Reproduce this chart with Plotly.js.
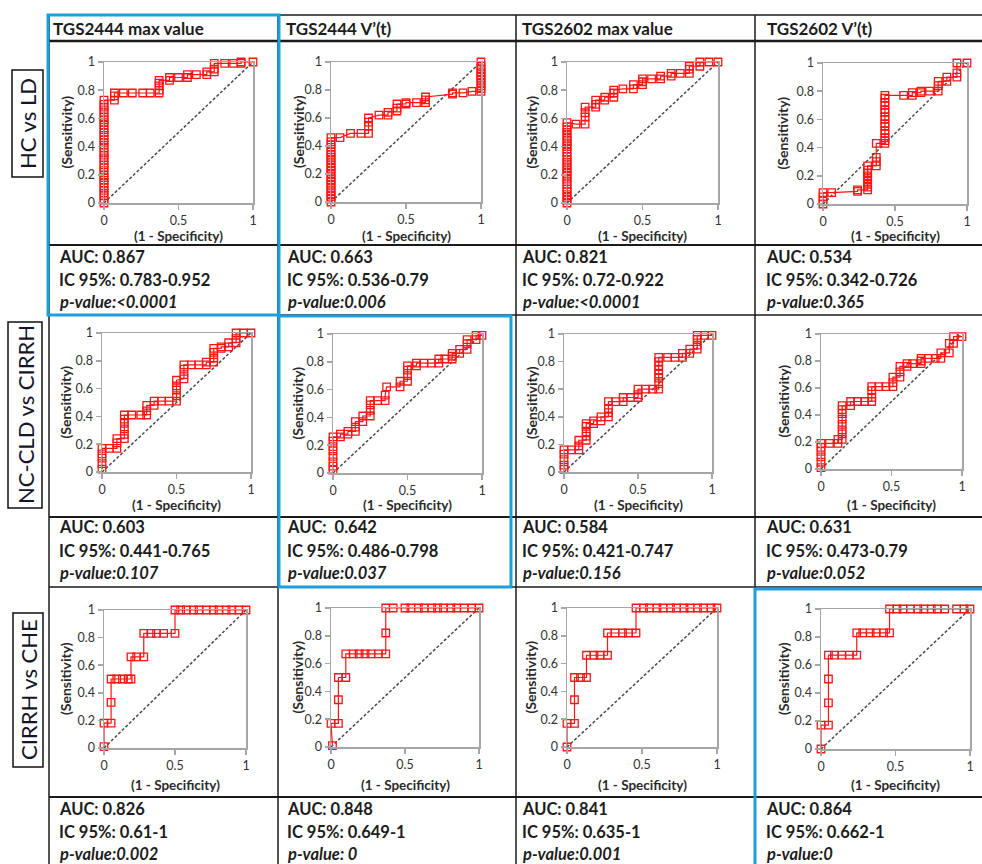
<!DOCTYPE html>
<html><head><meta charset="utf-8">
<script src="https://cdn.plot.ly/plotly-3.0.1.min.js"></script>
<style>html,body{margin:0;padding:0;background:#fff;}#chart{width:982px;height:864px;}</style>
</head><body><div id="chart"></div>
<script>
// ---------- DATA ----------
const columnTitles = ["TGS2444 max value", "TGS2444 V\u2019(t)", "TGS2602 max value", "TGS2602 V\u2019(t)"];
const rowLabels = ["HC vs LD", "NC-CLD vs CIRRH", "CIRRH vs CHE"];
const xAxisTitle = "(1 - Specificity)";
const yAxisTitle = "(Sensitivity)";
const aucText = ["0.867", "0.663", "0.821", "0.534", "0.603", " 0.642", "0.584", "0.631", "0.826", "0.848", "0.841", "0.864"];
const ciText = ["0.783-0.952", "0.536-0.79", "0.72-0.922", "0.342-0.726", "0.441-0.765", "0.486-0.798", "0.421-0.747", "0.473-0.79", "0.61-1", "0.649-1", "0.635-1", "0.662-1"];
const pText = ["<0.0001", "0.006", "<0.0001", "0.365", "0.107", "0.037", "0.156", "0.052", "0.002", " 0", "0.001", "0"];
const diagonal = [[0, 0], [1, 1]];

// ROC points [1 - specificity, sensitivity]
const roc_hcld_2444max = [[0,0],[0,0.02],[0,0.05],[0,0.07],[0,0.09],[0,0.11],[0,0.14],[0,0.16],[0,0.18],[0,0.2],[0,0.23],[0,0.25],[0,0.27],[0,0.3],[0,0.32],[0,0.34],[0,0.36],[0,0.39],[0,0.41],[0,0.43],[0,0.45],[0,0.48],[0,0.5],[0,0.52],[0,0.55],[0,0.57],[0,0.59],[0,0.61],[0,0.64],[0,0.66],[0,0.68],[0,0.7],[0,0.73],[0.07,0.73],[0.07,0.76],[0.07,0.78],[0.13,0.78],[0.19,0.78],[0.26,0.78],[0.31,0.78],[0.37,0.78],[0.37,0.8],[0.37,0.83],[0.37,0.85],[0.37,0.87],[0.44,0.87],[0.44,0.89],[0.5,0.89],[0.56,0.89],[0.56,0.91],[0.62,0.91],[0.69,0.91],[0.69,0.93],[0.74,0.93],[0.74,0.95],[0.74,0.99],[0.81,0.99],[0.87,0.99],[0.92,0.99],[0.92,1],[1,1]];
const roc_hcld_2444v = [[0,0],[0,0.02],[0,0.04],[0,0.06],[0,0.08],[0,0.1],[0,0.12],[0,0.14],[0,0.16],[0,0.18],[0,0.2],[0,0.22],[0,0.24],[0,0.26],[0,0.28],[0,0.3],[0,0.32],[0,0.34],[0,0.36],[0,0.39],[0,0.41],[0,0.43],[0,0.46],[0.06,0.46],[0.13,0.49],[0.2,0.49],[0.25,0.49],[0.25,0.54],[0.25,0.57],[0.25,0.6],[0.32,0.62],[0.38,0.62],[0.38,0.64],[0.44,0.65],[0.44,0.67],[0.44,0.7],[0.5,0.7],[0.5,0.71],[0.57,0.71],[0.63,0.71],[0.63,0.73],[0.63,0.75],[0.81,0.77],[0.81,0.78],[0.88,0.78],[0.94,0.79],[1,0.79],[1,0.81],[1,0.83],[1,0.85],[1,0.87],[1,0.89],[1,0.91],[1,0.93],[1,0.95],[1,0.97],[1,1]];
const roc_hcld_2602max = [[0,0],[0,0.02],[0,0.04],[0,0.06],[0,0.08],[0,0.1],[0,0.13],[0,0.15],[0,0.17],[0,0.19],[0,0.21],[0,0.23],[0,0.25],[0,0.27],[0,0.29],[0,0.31],[0,0.33],[0,0.36],[0,0.38],[0,0.4],[0,0.42],[0,0.44],[0,0.46],[0,0.48],[0,0.5],[0,0.52],[0,0.54],[0,0.57],[0.06,0.56],[0.12,0.56],[0.12,0.61],[0.12,0.64],[0.12,0.68],[0.19,0.68],[0.19,0.7],[0.19,0.73],[0.25,0.73],[0.25,0.75],[0.31,0.75],[0.31,0.78],[0.31,0.8],[0.37,0.81],[0.44,0.81],[0.44,0.84],[0.5,0.84],[0.5,0.86],[0.5,0.88],[0.56,0.88],[0.62,0.88],[0.62,0.9],[0.69,0.9],[0.69,0.92],[0.75,0.92],[0.81,0.92],[0.81,0.95],[0.81,0.97],[0.88,0.97],[0.88,1],[0.94,1],[1,1]];
const roc_hcld_2602v = [[0,0],[0,0.02],[0,0.05],[0,0.08],[0.06,0.08],[0.24,0.09],[0.24,0.1],[0.31,0.1],[0.31,0.12],[0.31,0.14],[0.31,0.16],[0.31,0.18],[0.31,0.2],[0.31,0.22],[0.31,0.24],[0.31,0.27],[0.37,0.27],[0.37,0.3],[0.37,0.33],[0.37,0.43],[0.43,0.43],[0.43,0.45],[0.43,0.47],[0.43,0.5],[0.43,0.52],[0.43,0.55],[0.43,0.57],[0.43,0.6],[0.43,0.62],[0.43,0.65],[0.43,0.67],[0.43,0.7],[0.43,0.72],[0.43,0.75],[0.43,0.77],[0.56,0.77],[0.62,0.77],[0.62,0.79],[0.68,0.79],[0.68,0.8],[0.74,0.8],[0.8,0.8],[0.8,0.84],[0.8,0.87],[0.86,0.87],[0.86,0.9],[0.93,0.9],[0.93,0.93],[0.93,1],[1,1]];
const roc_cirr_2444max = [[0,0.02],[0,0.06],[0,0.1],[0,0.13],[0,0.17],[0.05,0.17],[0.1,0.17],[0.1,0.21],[0.1,0.24],[0.15,0.24],[0.15,0.27],[0.15,0.31],[0.15,0.35],[0.15,0.38],[0.15,0.41],[0.2,0.41],[0.26,0.41],[0.3,0.41],[0.3,0.44],[0.3,0.48],[0.35,0.48],[0.35,0.51],[0.4,0.51],[0.45,0.51],[0.5,0.51],[0.5,0.55],[0.5,0.59],[0.5,0.62],[0.5,0.66],[0.55,0.67],[0.55,0.7],[0.55,0.74],[0.55,0.77],[0.6,0.77],[0.65,0.77],[0.7,0.77],[0.7,0.79],[0.75,0.79],[0.75,0.82],[0.75,0.86],[0.75,0.89],[0.8,0.89],[0.8,0.9],[0.85,0.9],[0.85,0.93],[0.9,0.93],[0.9,0.96],[0.9,1],[0.95,1],[1,1]];
const roc_cirr_2444v = [[0,0.02],[0,0.05],[0,0.08],[0,0.12],[0,0.16],[0,0.19],[0,0.23],[0,0.26],[0.05,0.26],[0.05,0.28],[0.1,0.28],[0.1,0.3],[0.15,0.3],[0.15,0.33],[0.15,0.37],[0.2,0.37],[0.2,0.41],[0.25,0.41],[0.25,0.45],[0.25,0.49],[0.25,0.52],[0.3,0.52],[0.35,0.52],[0.35,0.56],[0.36,0.62],[0.45,0.62],[0.45,0.66],[0.5,0.66],[0.5,0.7],[0.5,0.74],[0.5,0.77],[0.56,0.77],[0.56,0.79],[0.61,0.79],[0.66,0.79],[0.71,0.79],[0.71,0.82],[0.75,0.82],[0.8,0.82],[0.8,0.84],[0.8,0.86],[0.85,0.86],[0.85,0.89],[0.9,0.89],[0.9,0.93],[0.9,0.96],[0.96,0.96],[0.96,0.99],[1,0.99]];
const roc_cirr_2602max = [[0,0.02],[0,0.05],[0,0.09],[0,0.13],[0,0.16],[0.05,0.16],[0.1,0.16],[0.1,0.19],[0.1,0.23],[0.15,0.23],[0.15,0.26],[0.15,0.29],[0.15,0.33],[0.15,0.35],[0.2,0.35],[0.2,0.37],[0.25,0.37],[0.25,0.4],[0.3,0.4],[0.3,0.43],[0.3,0.46],[0.3,0.51],[0.35,0.51],[0.4,0.51],[0.4,0.54],[0.45,0.54],[0.5,0.54],[0.5,0.56],[0.5,0.6],[0.55,0.6],[0.6,0.6],[0.64,0.6],[0.64,0.64],[0.64,0.68],[0.64,0.71],[0.64,0.74],[0.64,0.77],[0.64,0.8],[0.64,0.83],[0.7,0.83],[0.75,0.83],[0.8,0.83],[0.8,0.86],[0.85,0.86],[0.85,0.89],[0.9,0.89],[0.9,0.92],[0.9,0.96],[0.9,0.99],[0.95,0.99],[1,0.99]];
const roc_cirr_2602v = [[0,0.01],[0,0.05],[0,0.09],[0,0.13],[0,0.16],[0,0.19],[0.06,0.19],[0.12,0.19],[0.12,0.22],[0.15,0.22],[0.15,0.26],[0.15,0.29],[0.15,0.33],[0.15,0.37],[0.15,0.41],[0.15,0.44],[0.15,0.47],[0.21,0.47],[0.21,0.5],[0.26,0.5],[0.31,0.5],[0.36,0.5],[0.36,0.53],[0.36,0.58],[0.36,0.61],[0.41,0.61],[0.46,0.61],[0.51,0.61],[0.51,0.64],[0.51,0.68],[0.56,0.68],[0.56,0.72],[0.56,0.76],[0.61,0.76],[0.61,0.78],[0.65,0.78],[0.71,0.78],[0.71,0.8],[0.71,0.82],[0.76,0.82],[0.81,0.82],[0.85,0.82],[0.85,0.86],[0.91,0.86],[0.91,0.93],[0.94,0.93],[0.94,0.98],[1,0.98]];
const roc_che_2444max = [[0,0.01],[0,0.18],[0.05,0.18],[0.05,0.33],[0.05,0.5],[0.09,0.5],[0.13,0.5],[0.17,0.5],[0.19,0.5],[0.19,0.66],[0.23,0.66],[0.28,0.66],[0.28,0.83],[0.33,0.83],[0.37,0.83],[0.42,0.83],[0.5,0.83],[0.5,1],[0.54,1],[0.58,1],[0.63,1],[0.67,1],[0.72,1],[0.77,1],[0.81,1],[0.86,1],[0.9,1],[0.95,1],[1,1]];
const roc_che_2444v = [[0.01,0.01],[0,0.17],[0.05,0.17],[0.05,0.34],[0.05,0.5],[0.1,0.5],[0.1,0.67],[0.15,0.67],[0.19,0.67],[0.23,0.67],[0.27,0.67],[0.32,0.67],[0.37,0.67],[0.37,0.82],[0.37,1],[0.42,1],[0.5,1],[0.54,1],[0.59,1],[0.63,1],[0.68,1],[0.72,1],[0.76,1],[0.81,1],[0.85,1],[0.9,1],[0.95,1],[1,1]];
const roc_che_2602max = [[0,0],[0,0.17],[0.05,0.17],[0.05,0.34],[0.05,0.5],[0.09,0.5],[0.13,0.5],[0.13,0.66],[0.18,0.66],[0.22,0.66],[0.27,0.66],[0.27,0.82],[0.32,0.82],[0.37,0.82],[0.41,0.82],[0.46,0.82],[0.46,1],[0.51,1],[0.55,1],[0.6,1],[0.64,1],[0.69,1],[0.73,1],[0.78,1],[0.82,1],[0.87,1],[0.91,1],[0.96,1],[1,1]];
const roc_che_2602v = [[0,0],[0,0.17],[0.05,0.17],[0.05,0.33],[0.05,0.5],[0.05,0.67],[0.09,0.67],[0.14,0.67],[0.19,0.67],[0.24,0.67],[0.24,0.83],[0.28,0.83],[0.33,0.83],[0.37,0.83],[0.42,0.83],[0.46,0.83],[0.46,1],[0.51,1],[0.55,1],[0.6,1],[0.65,1],[0.69,1],[0.74,1],[0.78,1],[0.83,1],[0.91,1],[0.96,1],[1,1]];

const curves = [roc_hcld_2444max, roc_hcld_2444v, roc_hcld_2602max, roc_hcld_2602v,
                roc_cirr_2444max, roc_cirr_2444v, roc_cirr_2602max, roc_cirr_2602v,
                roc_che_2444max, roc_che_2444v, roc_che_2602max, roc_che_2602v];

// ---------- LAYOUT GEOMETRY (pixels) ----------
const W = 982, H = 864;
const px = v => v / W, py = v => 1 - v / H;
const plotBoxes = [
  [104,253,62,203],[331,481,62,202],[567,718,62,203],[823,967,63,204],
  [102,251,333,472],[333,482,334,473],[564,712,334,472],[821,962,334,469],
  [104,246,610,748],[331,479,608,747],[567,717,608,747],[821,970,609,749]
];
const yTitleX = [66,298,531,782, 65,297,532,783, 65,297,530,783];
const xTitleY = [236, 505, 785];
const textX = [57, 285, 520, 764];
const headerX = [51, 284, 520, 765];
const textRowsY = [[257,280,302],[527,551,573],[809,832,854]];
const FONT = "Lato, 'Open Sans', sans-serif";
const TXT = "#1c1c1c";
const RED = "#ff1414";

const traces = [];
const layout = {
  width: W, height: H, margin: {l:0, r:0, t:0, b:0},
  paper_bgcolor: "#fff", plot_bgcolor: "rgba(0,0,0,0)",
  showlegend: false, font: {family: FONT, color: TXT},
  shapes: [], annotations: []
};

curves.forEach((c, i) => {
  const k = i + 1;
  const xa = "x" + k, ya = "y" + k;
  traces.push({x: diagonal.map(p => p[0]), y: diagonal.map(p => p[1]), mode: "lines",
    line: {color: "#4a4a4a", width: 1.5, dash: "3px,2px"}, xaxis: xa, yaxis: ya, hoverinfo: "skip", cliponaxis: false});
  traces.push({x: c.map(p => p[0]), y: c.map(p => p[1]), mode: "lines+markers",
    line: {color: RED, width: 1.2},
    marker: {symbol: "square-open", size: 7.5, color: RED, line: {width: 1.3, color: RED}},
    xaxis: xa, yaxis: ya, cliponaxis: false});
  const b = plotBoxes[i];
  const axCommon = {range: [0, 1], showgrid: false, zeroline: false, showline: true, mirror: true,
    linecolor: "#a6a6a6", linewidth: 1.5, ticks: "outside", ticklen: 5, tickwidth: 1.5, tickcolor: "#a6a6a6",
    tickfont: {family: FONT, size: 12.5, color: "#333"}, fixedrange: true};
  layout["xaxis" + k] = Object.assign({}, axCommon, {domain: [px(b[0]), px(b[1])], anchor: ya, dtick: 0.5, tick0: 0});
  layout["yaxis" + k] = Object.assign({}, axCommon, {domain: [py(b[3]), py(b[2])], anchor: xa, dtick: 0.2, tick0: 0});
  const r = Math.floor(i / 4), col = i % 4;
  // axis titles
  layout.annotations.push({text: "<b>" + xAxisTitle + "</b>", xref: "paper", yref: "paper",
    x: px((b[0] + b[1]) / 2), y: py(xTitleY[r]), xanchor: "center", yanchor: "middle", showarrow: false,
    font: {family: FONT, size: 13.5, color: "#2a2a2a"}});
  layout.annotations.push({text: "<b>" + yAxisTitle + "</b>", xref: "paper", yref: "paper",
    x: px(yTitleX[i]), y: py((b[2] + b[3]) / 2), textangle: -90, xanchor: "center", yanchor: "middle", showarrow: false,
    font: {family: FONT, size: 14, color: "#2a2a2a"}});
  // stats text
  const lines = ["<b>AUC: " + aucText[i] + "</b>", "<b>IC 95%: " + ciText[i] + "</b>",
                 "<b><i>p-value:" + pText[i].replace("<", "&lt;") + "</i></b>"];
  lines.forEach((t, j) => {
    layout.annotations.push({text: t, xref: "paper", yref: "paper", x: px(textX[col]), y: py(textRowsY[r][j]),
      xanchor: "left", yanchor: "middle", showarrow: false, font: {family: FONT, size: 16.5, color: TXT}});
  });
});

// headers
columnTitles.forEach((t, c) => {
  layout.annotations.push({text: "<b>" + t + "</b>", xref: "paper", yref: "paper", x: px(headerX[c]), y: py(28),
    xanchor: "left", yanchor: "middle", showarrow: false, font: {family: FONT, size: 17, color: TXT}});
});

// row labels with boxes
const rowBoxes = [[12,43,70,177],[8,42,322,508],[13,43,613,767]];
rowLabels.forEach((t, r) => {
  const b = rowBoxes[r];
  layout.shapes.push({type: "rect", xref: "paper", yref: "paper", x0: px(b[0]), x1: px(b[1]), y0: py(b[2]), y1: py(b[3]),
    line: {color: "#111", width: 1.5}});
  layout.annotations.push({text: t, xref: "paper", yref: "paper", x: px((b[0] + b[1]) / 2), y: py((b[2] + b[3]) / 2),
    textangle: -90, xanchor: "center", yanchor: "middle", showarrow: false, font: {family: FONT, size: 22, color: "#15152a"}});
});

// table grid
function hline(y, w) { layout.shapes.push({type: "line", xref: "paper", yref: "paper", x0: px(49), x1: px(990), y0: py(y), y1: py(y), line: {color: "#1a1a1a", width: w}}); }
function vline(x) { layout.shapes.push({type: "line", xref: "paper", yref: "paper", x0: px(x), x1: px(x), y0: py(15), y1: py(880), line: {color: "#1a1a1a", width: 1.5}}); }
hline(15, 1.5); hline(41, 2.5); hline(245, 2); hline(315, 1.5); hline(517, 2); hline(587, 1.5); hline(797, 2);
[49, 278, 516, 755].forEach(vline);

// blue highlight boxes
const BLUE = "#1c9fdc";
[[48,279,15,315],[279,511,316,587],[755,995,589,880]].forEach(b => {
  layout.shapes.push({type: "rect", xref: "paper", yref: "paper", x0: px(b[0]), x1: px(b[1]), y0: py(b[2]), y1: py(b[3]),
    line: {color: BLUE, width: 3}});
});

Plotly.newPlot("chart", traces, layout, {displayModeBar: false, staticPlot: true});
</script></body></html>
